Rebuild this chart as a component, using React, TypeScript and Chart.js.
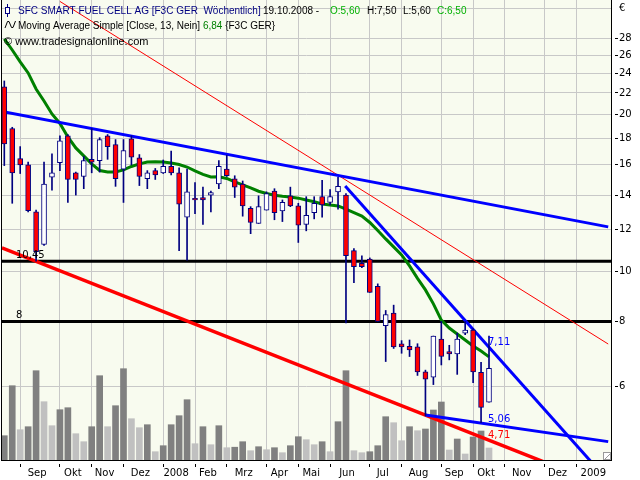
import React, { useEffect, useRef } from "react";
import { Chart, registerables } from "chart.js";

Chart.register(...registerables);

// ---- Weekly OHLC (index 0 = first visible week, 61 = week of 19.10.2008) ----
const open = [22.6,18.8,16.45,16.0,13.0,11.25,15.15,16.15,18.2,15.45,15.2,16.4,16.3,18.2,17.5,15.7,17.95,16.5,15.05,15.6,15.45,15.9,15.45,12.7,13.8,13.85,14.0,14.7,15.7,15.05,14.7,13.2,12.35,13.1,14.25,13.05,13.95,13.35,12.3,12.95,13.9,13.55,14.2,14.0,10.95,10.35,10.55,9.35,7.85,8.3,7.25,7.17,7.15,6.4,6.25,7.4,7.0,6.93,7.6,7.7,6.39,5.6];
const high = [23.2,18.9,17.35,16.2,13.1,16.2,16.8,18.2,18.3,15.5,16.6,18.8,18.05,18.3,17.9,17.9,18.2,16.75,15.6,15.75,16.35,17.0,15.8,15.7,14.8,14.5,14.25,16.3,16.7,15.25,14.9,13.3,13.95,14.2,14.4,13.7,14.5,13.5,13.9,13.9,14.95,14.35,15.15,14.1,11.05,10.7,10.6,9.45,8.4,8.6,7.35,7.37,7.25,6.45,7.5,8.0,7.2,7.6,8.0,7.75,6.68,7.5];
const low = [15.95,13.5,15.4,13.0,10.45,11.2,14.3,15.6,13.55,14.0,14.4,15.45,15.5,16.4,14.55,13.55,16.0,14.6,14.4,15.0,15.4,15.3,10.95,10.5,12.9,12.3,13.0,14.4,15.2,13.85,12.75,11.8,12.35,13.1,12.55,12.45,13.3,11.35,11.95,12.6,12.7,13.4,13.15,7.95,9.5,10.15,9.1,8.0,6.7,7.1,6.95,6.85,6.3,5.27,6.05,6.6,6.75,6.33,7.55,6.1,5.11,5.6];
const close = [17.55,15.45,16.0,13.07,10.9,14.7,15.45,17.8,15.0,15.0,16.3,16.2,17.9,17.35,15.05,17.05,16.55,15.2,15.45,15.3,15.9,15.45,13.45,14.2,13.7,13.7,14.15,15.9,15.25,14.5,13.35,12.4,13.3,14.1,12.95,13.55,13.35,12.25,12.8,13.5,13.4,13.9,14.55,10.7,10.2,10.2,9.1,8.0,8.25,7.15,7.15,7.05,6.4,6.2,7.5,6.85,6.93,7.4,7.7,6.4,5.47,6.5];
const volume = [243,743,303,333,893,583,343,503,523,263,183,333,843,333,543,913,413,323,353,83,143,353,443,603,163,333,153,343,123,128,183,93,133,103,123,73,143,233,203,153,183,83,383,893,93,73,83,143,433,373,193,333,293,310,500,580,100,210,60,230,290,120];
const ma13 = [27.94,26.61,25.24,24.04,22.39,21.23,20.05,19.22,18.11,17.25,16.65,16.07,15.61,15.51,15.51,15.65,15.89,16.07,16.21,16.23,16.21,16.14,16.03,15.85,15.58,15.34,15.17,15.18,15.07,14.84,14.64,14.45,14.24,14.1,13.99,13.92,13.88,13.81,13.7,13.59,13.46,13.4,13.34,13.16,12.96,12.76,12.4,11.97,11.53,11.13,10.74,10.23,9.68,9.2,8.65,8.05,7.77,7.57,7.37,7.18,7.02,6.84];

// ---- Axis definitions ----
const monthStarts = [2,7,11,15,20,24,28,33,37,41,46,50,55,59,63,68,72,77];
const monthLabels = ["Sep","Okt","Nov","Dez","2008","Feb","Mrz","Apr","Mai","Jun","Jul","Aug","Sep","Okt","Nov","Dez","2009"];
const priceTicks = [6,8,10,12,14,16,18,20,22,24,26,28,32];
const xMin = -0.2895;
const xMax = 76.353;
const yMin = 4.333;
const yMax = 33.2;
const volMax = 4600;

// ---- Drawing tools (trend lines: [weekIndex, price]) ----
const blueUpper = [[-0.3, 20.28], [76, 12.16]];
const redThin = [[7, 32.99], [76, 7.24]];
const redLower = [[-0.3, 11.08], [76, 3.84]];
const blueSteep = [[42.9, 14.58], [76, 3.95]];
const blueLower = [[53, 5.29], [76, 4.7]];
const hLineValues = [10.45, 8];
const hLineLabels = ["10,45", "8"];
const endLabelValues = [7.11, 5.06, 4.71];
const endLabelTexts = ["7,11", "5,06", "4,71"];
const endLabelColors = ["#0000FF", "#0000FF", "#FF0000"];
const endLabelIndex = 61;

// legend text segments: [text, color, x position]
const titleSegments: [string, string, number][] = [
  ["SFC SMART FUEL CELL AG [F3C GER  Wöchentlich]", "#000080", 18],
  ["19.10.2008 -", "#000000", 263],
  ["O:5,60", "#00B000", 330],
  ["H:7,50", "#000000", 367],
  ["L:5,60", "#000000", 403],
  ["C:6,50", "#00B000", 437],
];
const maSegments: [string, string][] = [
  ["Moving Average Simple [Close, 13, Nein] ", "#000000"],
  ["6,84", "#008000"],
  [" {F3C GER}", "#000000"],
];
const copyrightText = "© www.tradesignalonline.com";

const FAMILY = '"DejaVu Sans", Tahoma, sans-serif';
const LEGEND_FAMILY = '"Liberation Sans", Arial, sans-serif';
const GRID = "#C8C8C8";
const NONE = "rgba(0,0,0,0)";

const xTicks: { value: number; label: string; start: boolean }[] = [];
for (let i = 0; i < monthLabels.length; i++) {
  if (monthStarts[i] >= xMin && monthStarts[i] <= xMax) xTicks.push({ value: monthStarts[i], label: "", start: true });
  xTicks.push({ value: (monthStarts[i] + monthStarts[i + 1]) / 2, label: monthLabels[i], start: false });
}
xTicks.sort((a, b) => a.value - b.value);
const startSet = new Set(monthStarts);

const decorPlugin = {
  id: "decor",
  beforeDraw(chart: any) {
    const { ctx, chartArea: a } = chart;
    ctx.save();
    ctx.fillStyle = "#F8FBEF";
    ctx.fillRect(a.left, a.top, a.right - a.left, a.bottom - a.top);
    ctx.restore();
  },
  afterDatasetsDraw(chart: any) {
    const { ctx } = chart;
    const xs = chart.scales.x;
    const ys = chart.scales.y;
    ctx.save();
    ctx.font = "10px " + FAMILY;
    ctx.textBaseline = "alphabetic";
    ctx.textAlign = "left";
    hLineValues.forEach((v, i) => {
      ctx.fillStyle = "#000";
      ctx.fillText(hLineLabels[i], xs.getPixelForValue(xMin) + 14, ys.getPixelForValue(v) - 3);
    });
    endLabelValues.forEach((v, i) => {
      ctx.fillStyle = endLabelColors[i];
      ctx.fillText(endLabelTexts[i], xs.getPixelForValue(endLabelIndex) - 1, ys.getPixelForValue(v) - 3);
    });
    ctx.restore();
  },
  afterDraw(chart: any) {
    const { ctx, chartArea: a } = chart;
    ctx.save();
    ctx.fillStyle = "#000";
    ctx.fillRect(a.left - 1, a.top, 1, a.bottom - a.top + 1);
    // resize corner
    ctx.fillStyle = "#FFF";
    ctx.fillRect(a.right - 7, a.bottom - 7, 6, 6);
    ctx.strokeStyle = "#999";
    ctx.lineWidth = 1;
    ctx.strokeRect(a.right - 7.5, a.bottom - 7.5, 7, 7);
    ctx.beginPath();
    ctx.moveTo(a.right - 6, a.bottom - 1);
    ctx.lineTo(a.right - 1, a.bottom - 6);
    ctx.stroke();

    ctx.textBaseline = "alphabetic";
    ctx.textAlign = "left";
    ctx.font = "10px " + LEGEND_FAMILY;
    for (const [t, c, x] of titleSegments) {
      ctx.fillStyle = c;
      ctx.fillText(t, x, 14);
    }
    let x = 18;
    for (const [t, c] of maSegments) {
      ctx.fillStyle = c;
      ctx.fillText(t, x, 29);
      x += ctx.measureText(t).width;
    }
    ctx.font = "11px " + LEGEND_FAMILY;
    ctx.fillStyle = "#000";
    ctx.fillText(copyrightText, 4, 45);

    // candle icon
    ctx.strokeStyle = "#000080";
    ctx.lineWidth = 1;
    ctx.beginPath();
    ctx.moveTo(7.5, 4);
    ctx.lineTo(7.5, 17);
    ctx.stroke();
    ctx.fillStyle = "#FFF";
    ctx.fillRect(5.5, 7.5, 4, 6);
    ctx.strokeRect(5.5, 7.5, 4, 6);
    // wave icon
    ctx.strokeStyle = "#000";
    ctx.beginPath();
    ctx.moveTo(5, 28);
    ctx.lineTo(7.5, 21.5);
    ctx.lineTo(9, 21.5);
    ctx.lineTo(11.5, 27.5);
    ctx.lineTo(13, 27.5);
    ctx.lineTo(15.5, 21);
    ctx.stroke();
    ctx.restore();
  },
};

function lineDs(points: number[][], color: string, width: number, order: number) {
  return {
    type: "line" as const,
    data: points.map(([x, y]) => ({ x, y })),
    borderColor: color,
    borderWidth: width,
    pointRadius: 0,
    tension: 0,
    fill: false,
    xAxisID: "x",
    yAxisID: "y",
    order,
  };
}

export default function App() {
  const ref = useRef<HTMLCanvasElement>(null);
  useEffect(() => {
    if (!ref.current) return;
    const volColors = volume.map((v, i) => (i === 0 || v >= volume[i - 1] ? "#808080" : "#C0C0C0"));
    const bodyColors = close.map((c, i) => (c < open[i] ? "#FF0000" : "#FFFFFF"));
    const datasets: any[] = [
      {
        type: "bar",
        data: volume.map((v, i) => ({ x: i, y: v })),
        backgroundColor: volColors,
        barThickness: 6,
        grouped: false,
        xAxisID: "x",
        yAxisID: "yv",
        order: 20,
      },
      ...hLineValues.map((v) => lineDs([[xMin, v], [xMax, v]], "#000000", 3, 15)),
      lineDs(redLower, "#FF0000", 3.5, 14),
      {
        type: "line",
        data: ma13.map((v, i) => ({ x: i, y: v })),
        borderColor: "#008000",
        borderWidth: 3,
        pointRadius: 0,
        tension: 0,
        fill: false,
        xAxisID: "x",
        yAxisID: "y",
        order: 13,
      },
      lineDs(redThin, "#FF0000", 1, 12),
      lineDs(blueUpper, "#0000FF", 3, 11),
      lineDs(blueSteep, "#0000FF", 3, 11),
      lineDs(blueLower, "#0000FF", 3, 11),
      {
        type: "bar",
        data: low.map((l, i) => ({ x: i, y: [l, high[i]] })),
        backgroundColor: "#000080",
        barThickness: 1,
        grouped: false,
        xAxisID: "x",
        yAxisID: "y",
        order: 2,
      },
      {
        type: "bar",
        data: open.map((o, i) => ({ x: i, y: [Math.min(o, close[i]), Math.max(o, close[i])] })),
        backgroundColor: bodyColors,
        borderColor: "#000080",
        borderWidth: 1,
        borderSkipped: false,
        barThickness: 5,
        grouped: false,
        xAxisID: "x",
        yAxisID: "y",
        order: 1,
      },
    ];
    const chart = new Chart(ref.current, {
      type: "bar",
      data: { datasets },
      plugins: [decorPlugin],
      options: {
        animation: false,
        responsive: false,
        maintainAspectRatio: false,
        devicePixelRatio: 1,
        events: [],
        layout: { padding: { left: 2, right: 0, top: 0, bottom: 0 } },
        plugins: { legend: { display: false }, tooltip: { enabled: false }, title: { display: false } },
        scales: {
          x: {
            type: "linear",
            position: "bottom",
            min: xMin,
            max: xMax,
            offset: false,
            afterBuildTicks: (s: any) => {
              s.ticks = xTicks.map((t) => ({ value: t.value }));
            },
            afterFit: (s: any) => {
              s.height = 20;
              s.paddingLeft = 0;
              s.paddingRight = 0;
            },
            ticks: {
              autoSkip: false,
              maxRotation: 0,
              minRotation: 0,
              padding: 0,
              labelOffset: -3,
              color: "#000",
              font: { family: FAMILY, size: 10 },
              callback: (_v: any, i: number) => (xTicks[i] ? xTicks[i].label : ""),
            },
            grid: {
              offset: false,
              color: (c: any) => (c.tick && startSet.has(c.tick.value) ? GRID : NONE),
              tickColor: (c: any) => (c.tick && startSet.has(c.tick.value) ? "#000" : NONE),
              tickLength: 7,
              tickBorderDash: [0, 3, 4, 30],
            },
            border: { display: true, color: "#000", width: 1 },
          },
          y: {
            type: "logarithmic",
            position: "right",
            min: yMin,
            max: yMax,
            afterBuildTicks: (s: any) => {
              s.ticks = priceTicks.map((v) => ({ value: v }));
            },
            afterFit: (s: any) => {
              s.width = 29;
              s.paddingTop = 0;
              s.paddingBottom = 0;
            },
            ticks: {
              autoSkip: false,
              padding: 1,
              color: "#000",
              font: { family: FAMILY, size: 10 },
              callback: (v: any) => (v === 32 ? "€" : String(v)),
            },
            grid: {
              color: GRID,
              tickColor: (c: any) => (c.tick && c.tick.value === 32 ? NONE : "#000"),
              tickLength: 7,
              tickBorderDash: [0, 3, 4, 30],
            },
            border: { display: true, color: "#000", width: 1 },
          },
          yv: {
            type: "linear",
            display: false,
            min: 0,
            max: volMax,
          },
        },
      } as any,
    });
    return () => chart.destroy();
  }, []);
  return (
    <div style={{ position: "absolute", left: 0, top: 0, width: 640, height: 480, background: "#fff" }}>
      <canvas ref={ref} width={640} height={480} style={{ display: "block" }} />
    </div>
  );
}
